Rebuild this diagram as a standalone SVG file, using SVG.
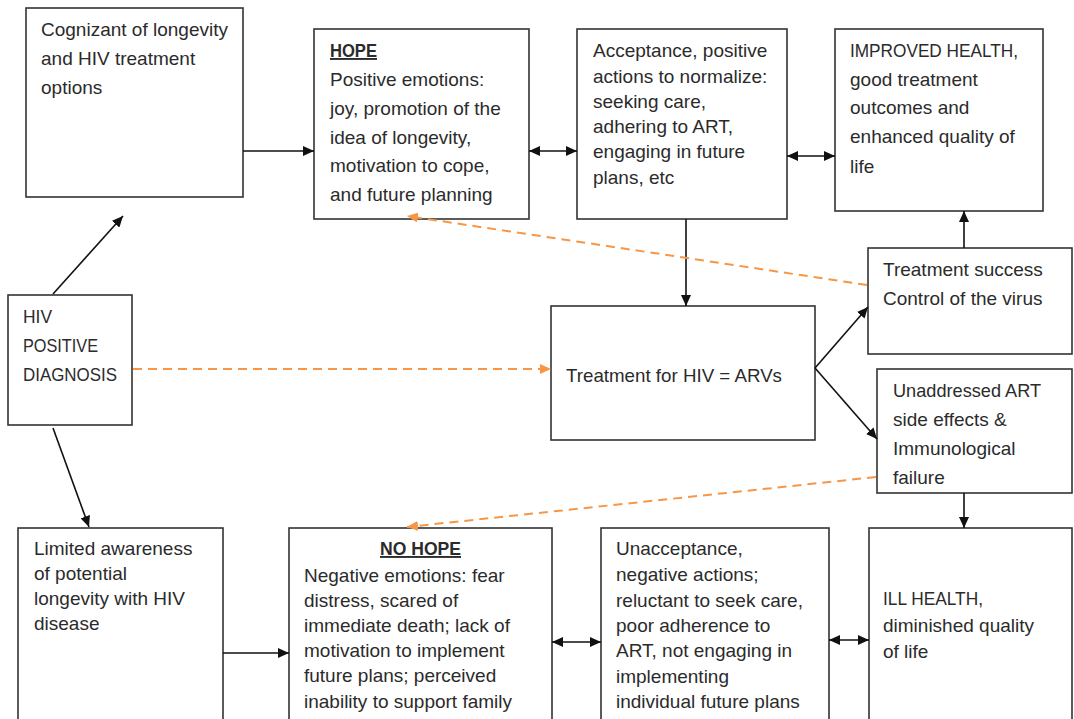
<svg xmlns="http://www.w3.org/2000/svg" width="1074" height="719" viewBox="0 0 1074 719">
<style>
  .box { fill: #ffffff; stroke: #333333; stroke-width: 1.6; }
  .t { font-family: "Liberation Sans", Arial, sans-serif; font-size: 19px; fill: #2b2b2b; }
  .hd { font-weight: bold; text-decoration: underline; }
  .c { fill: none; stroke: #111111; stroke-width: 1.6; }
  .o { fill: none; stroke: #f79646; stroke-width: 2; stroke-dasharray: 9 6; }
</style>
<defs>
  <marker id="ah" markerUnits="userSpaceOnUse" markerWidth="12" markerHeight="10" refX="11" refY="5" orient="auto-start-reverse">
    <path d="M0,0 L11,5 L0,10 z" fill="#111111"/>
  </marker>
  <marker id="ao" markerUnits="userSpaceOnUse" markerWidth="12" markerHeight="10" refX="11" refY="5" orient="auto">
    <path d="M0,0 L11,5 L0,10 z" fill="#f79646"/>
  </marker>
</defs>
<rect width="1074" height="719" fill="#ffffff"/>

<g id="cognizant">
  <rect class="box" x="26" y="8" width="217" height="189"/>
  <text class="t" x="41" y="36">Cognizant of longevity</text>
  <text class="t" x="41" y="65">and HIV treatment</text>
  <text class="t" x="41" y="94">options</text>
</g>

<g id="hope">
  <rect class="box" x="314" y="29" width="215" height="190"/>
  <text class="t hd" x="330" y="57" textLength="47" lengthAdjust="spacingAndGlyphs">HOPE</text>
  <text class="t" x="330" y="86">Positive emotions:</text>
  <text class="t" x="330" y="115">joy, promotion of the</text>
  <text class="t" x="330" y="144">idea of longevity,</text>
  <text class="t" x="330" y="172">motivation to cope,</text>
  <text class="t" x="330" y="201">and future planning</text>
</g>

<g id="acceptance">
  <rect class="box" x="577" y="29" width="210" height="190"/>
  <text class="t" x="593" y="57">Acceptance, positive</text>
  <text class="t" x="593" y="83">actions to normalize:</text>
  <text class="t" x="593" y="108">seeking care,</text>
  <text class="t" x="593" y="133">adhering to ART,</text>
  <text class="t" x="593" y="158">engaging in future</text>
  <text class="t" x="593" y="184">plans, etc</text>
</g>

<g id="improved">
  <rect class="box" x="835" y="29" width="208" height="182"/>
  <text class="t" x="850" y="57" textLength="168" lengthAdjust="spacingAndGlyphs">IMPROVED HEALTH,</text>
  <text class="t" x="850" y="86">good treatment</text>
  <text class="t" x="850" y="114">outcomes and</text>
  <text class="t" x="850" y="143">enhanced quality of</text>
  <text class="t" x="850" y="173">life</text>
</g>

<g id="hiv">
  <rect class="box" x="8" y="295" width="124" height="130"/>
  <text class="t" x="23" y="323" textLength="29" lengthAdjust="spacingAndGlyphs">HIV</text>
  <text class="t" x="23" y="352" textLength="75" lengthAdjust="spacingAndGlyphs">POSITIVE</text>
  <text class="t" x="23" y="381" textLength="94" lengthAdjust="spacingAndGlyphs">DIAGNOSIS</text>
</g>

<g id="treatment">
  <rect class="box" x="551" y="306" width="264" height="134"/>
  <text class="t" x="566" y="382" textLength="216" lengthAdjust="spacingAndGlyphs">Treatment for HIV = ARVs</text>
</g>

<g id="success">
  <rect class="box" x="868" y="248" width="204" height="106"/>
  <text class="t" x="883" y="276">Treatment success</text>
  <text class="t" x="883" y="305">Control of the virus</text>
</g>

<g id="unaddressed">
  <rect class="box" x="877" y="369" width="195" height="124"/>
  <text class="t" x="893" y="397" textLength="148" lengthAdjust="spacingAndGlyphs">Unaddressed ART</text>
  <text class="t" x="893" y="426">side effects &amp;</text>
  <text class="t" x="893" y="455">Immunological</text>
  <text class="t" x="893" y="484">failure</text>
</g>

<g id="limited">
  <rect class="box" x="18" y="528" width="205" height="205"/>
  <text class="t" x="34" y="555">Limited awareness</text>
  <text class="t" x="34" y="580">of potential</text>
  <text class="t" x="34" y="605">longevity with HIV</text>
  <text class="t" x="34" y="630">disease</text>
</g>

<g id="nohope">
  <rect class="box" x="289" y="528" width="263" height="205"/>
  <text class="t hd" x="380" y="555" textLength="81" lengthAdjust="spacingAndGlyphs">NO HOPE</text>
  <text class="t" x="304" y="582">Negative emotions: fear</text>
  <text class="t" x="304" y="607">distress, scared of</text>
  <text class="t" x="304" y="632">immediate death; lack of</text>
  <text class="t" x="304" y="657">motivation to implement</text>
  <text class="t" x="304" y="682">future plans; perceived</text>
  <text class="t" x="304" y="708">inability to support family</text>
</g>

<g id="unacceptance">
  <rect class="box" x="601" y="528" width="228" height="205"/>
  <text class="t" x="616" y="555">Unacceptance,</text>
  <text class="t" x="616" y="581">negative actions;</text>
  <text class="t" x="616" y="607">reluctant to seek care,</text>
  <text class="t" x="616" y="632">poor adherence to</text>
  <text class="t" x="616" y="657">ART, not engaging in</text>
  <text class="t" x="616" y="683">implementing</text>
  <text class="t" x="616" y="708">individual future plans</text>
</g>

<g id="illhealth">
  <rect class="box" x="869" y="528" width="203" height="205"/>
  <text class="t" x="883" y="605" textLength="100" lengthAdjust="spacingAndGlyphs">ILL HEALTH,</text>
  <text class="t" x="883" y="632">diminished quality</text>
  <text class="t" x="883" y="658">of life</text>
</g>

<g id="connectors">
  <line class="c" x1="243" y1="151" x2="314" y2="151" marker-end="url(#ah)"/>
  <line class="c" x1="529" y1="151" x2="577" y2="151" marker-start="url(#ah)" marker-end="url(#ah)"/>
  <line class="c" x1="787" y1="156" x2="835" y2="156" marker-start="url(#ah)" marker-end="url(#ah)"/>
  <line class="c" x1="53" y1="294" x2="123" y2="216" marker-end="url(#ah)"/>
  <line class="c" x1="53" y1="428" x2="89" y2="527" marker-end="url(#ah)"/>
  <line class="o" x1="133" y1="369" x2="551" y2="369" marker-end="url(#ao)"/>
  <line class="c" x1="686" y1="219" x2="686" y2="306" marker-end="url(#ah)"/>
  <line class="c" x1="815" y1="368" x2="868" y2="307" marker-end="url(#ah)"/>
  <line class="c" x1="815" y1="368" x2="877" y2="439" marker-end="url(#ah)"/>
  <line class="c" x1="964" y1="248" x2="964" y2="211" marker-end="url(#ah)"/>
  <line class="o" x1="867" y1="285" x2="407" y2="216" marker-end="url(#ao)"/>
  <line class="o" x1="876" y1="477" x2="407" y2="527" marker-end="url(#ao)"/>
  <line class="c" x1="964" y1="493" x2="964" y2="528" marker-end="url(#ah)"/>
  <line class="c" x1="223" y1="653" x2="289" y2="653" marker-end="url(#ah)"/>
  <line class="c" x1="552" y1="642" x2="601" y2="642" marker-start="url(#ah)" marker-end="url(#ah)"/>
  <line class="c" x1="829" y1="640" x2="869" y2="640" marker-start="url(#ah)" marker-end="url(#ah)"/>
</g>
</svg>
